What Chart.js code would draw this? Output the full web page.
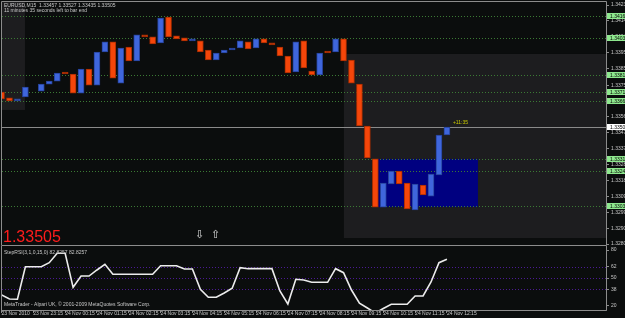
<!DOCTYPE html>
<html>
<head>
<meta charset="utf-8">
<script src="https://cdn.jsdelivr.net/npm/chart.js@4.4.0/dist/chart.umd.min.js"></script>
<style>
  html, body { margin: 0; padding: 0; background: #0b0d0d; }
  #wrap { position: relative; width: 625px; height: 318px; overflow: hidden; background: #0b0d0d; }
  canvas { position: absolute; left: 0; }
  #price { top: 0; }
  #rsi { top: 246px; }
</style>
</head>
<body>
<div id="wrap">
  <canvas id="price" width="625" height="246"></canvas>
  <canvas id="rsi" width="625" height="72"></canvas>
</div>
<script>
// EURUSD M15, bar 0 = 23 Nov 22:15, bar 56 = 24 Nov 12:15 (still forming)
const opens = [
  1.33714, 1.33679, 1.33661, 1.33685, null, 1.33720, 1.33762, 1.33780, 1.33828, 1.33822,
  1.33708, 1.33852, 1.33756, 1.33954, 1.34014, 1.33768, 1.33984, 1.33900, 1.34050, 1.34044,
  1.34008, 1.34163, 1.34050, 1.34038, 1.34020, 1.34020, 1.33966, 1.33906, 1.33948, 1.33966,
  1.33978, 1.34014, 1.33978, 1.34032, 1.34008, 1.33984, 1.33930, 1.33834, 1.34020, 1.33840,
  1.33816, 1.33954, 1.33954, 1.34032, 1.33906, 1.33762, 1.33511, 1.33314, 1.33026, 1.33164,
  1.33242, 1.33170, 1.33009, 1.33158, 1.33092, 1.33218, 1.33457
];
const closes = [
  1.33673, 1.33661, 1.33673, 1.33744, null, 1.33762, 1.33780, 1.33828, 1.33822, 1.33708,
  1.33852, 1.33756, 1.33954, 1.34014, 1.33798, 1.33978, 1.33900, 1.34056, 1.34044, 1.34002,
  1.34157, 1.34044, 1.34032, 1.34020, 1.34032, 1.33954, 1.33906, 1.33948, 1.33966, 1.33978,
  1.34020, 1.33972, 1.34032, 1.34008, 1.33996, 1.33930, 1.33828, 1.34014, 1.33858, 1.33816,
  1.33948, 1.33948, 1.34032, 1.33900, 1.33768, 1.33511, 1.33320, 1.33026, 1.33170, 1.33242,
  1.33164, 1.33015, 1.33164, 1.33098, 1.33224, 1.33457, 1.33505
];
const stepRsi = [
  31.8, 27.5, 27.2, 62.1, 62.1, 62.1, 66.4, 76.5, 76.5, 40.0,
  52.1, 52.1, 58.6, 64.7, 54.0, 54.0, 54.0, 54.0, 54.0, 54.0,
  63.2, 63.2, 63.2, 59.6, 59.6, 37.9, 29.3, 29.3, 33.9, 39.0,
  61.0, 60.0, 60.0, 60.0, 60.0, 36.1, 22.1, 48.6, 47.8, 45.4,
  45.4, 45.4, 60.0, 55.7, 37.1, 22.9, 17.8, 12.5, 17.3, 21.8,
  21.8, 21.8, 30.7, 30.7, 45.7, 66.4, 70.0
];
const timeTicks = [0, 4, 8, 12, 16, 20, 24, 28, 32, 36, 40, 44, 48, 52, 56];
const timeLabels = [
  '23 Nov 2010', '23 Nov 23:15', '24 Nov 00:15', '24 Nov 01:15', '24 Nov 02:15',
  '24 Nov 03:15', '24 Nov 04:15', '24 Nov 05:15', '24 Nov 06:15', '24 Nov 07:15',
  '24 Nov 08:15', '24 Nov 09:15', '24 Nov 10:15', '24 Nov 11:15', '24 Nov 12:15'
];
const priceTicks = [
  1.34235, 1.34140, 1.34045, 1.33950, 1.33855, 1.33755, 1.33660, 1.33565,
  1.33470, 1.33375, 1.33280, 1.33185, 1.33090, 1.32995, 1.32900, 1.32805
];
const levelPrices = [1.34169, 1.34038, 1.33816, 1.33714, 1.33661, 1.33314, 1.33242, 1.33033];
const bidPrice = 1.33505;
const sessionFrom = [-1, 43.05];
const sessionTo = [2.95, 80];
const sessionHigh = [1.34300, 1.33942];
const sessionLow = [1.33607, 1.32841];
const boxFrom = 47.35, boxTo = 59.9, boxHigh = 1.33314, boxLow = 1.33026;
const rsiTicks = [80, 62, 50, 38, 20];
const rsiLevels = [62, 50, 38];

const UP = '#3f66dc', UP_EDGE = '#26429a';
const DOWN = '#f5460a', DOWN_EDGE = '#a52c00';
const TXT = '#c8c8c8';
const FONT = '"Liberation Sans", Arial, sans-serif';
const xMin = 0.06, xMax = 76;

const candles = [];
opens.forEach((o, i) => { if (o !== null) candles.push({ x: i, y: [o, closes[i]] }); });

function isUp(ctx) {
  const d = ctx.raw;
  return d && d.y[1] >= d.y[0];
}

function frame(ctx, a, withTop) {
  ctx.save();
  ctx.strokeStyle = '#8c8c8c';
  ctx.lineWidth = 1;
  ctx.beginPath();
  if (withTop) {
    ctx.moveTo(a.left - 0.5, a.bottom + 0.5);
    ctx.lineTo(a.left - 0.5, a.top - 0.5);
    ctx.lineTo(a.right + 0.5, a.top - 0.5);
    ctx.lineTo(a.right + 0.5, a.bottom + 0.5);
  } else {
    ctx.moveTo(a.left - 0.5, a.top);
    ctx.lineTo(a.left - 0.5, a.bottom + 0.5);
    ctx.lineTo(a.right + 0.5, a.bottom + 0.5);
    ctx.lineTo(a.right + 0.5, a.top);
  }
  ctx.moveTo(a.left - 0.5, a.bottom + 0.5);
  ctx.lineTo(a.right + 0.5, a.bottom + 0.5);
  ctx.stroke();
  ctx.restore();
}

function axisTag(ctx, a, yy, text, fill) {
  ctx.fillStyle = fill;
  ctx.fillRect(a.right + 1, Math.round(yy) - 3, 20, 6);
  ctx.fillStyle = '#000';
  ctx.font = '5px ' + FONT;
  ctx.textBaseline = 'middle';
  ctx.textAlign = 'left';
  ctx.fillText(text, a.right + 4, Math.round(yy) + 0.5);
}

const priceDecor = {
  id: 'priceDecor',
  beforeDatasetsDraw(chart) {
    const { ctx, chartArea: a, scales: { x, y } } = chart;
    ctx.save();
    ctx.beginPath();
    ctx.rect(a.left, a.top, a.right - a.left, a.bottom - a.top);
    ctx.clip();
    // session boxes
    ctx.fillStyle = '#1d1d1f';
    sessionFrom.forEach((f, i) => {
      const x0 = x.getPixelForValue(f), x1 = x.getPixelForValue(sessionTo[i]);
      const y0 = y.getPixelForValue(sessionHigh[i]), y1 = y.getPixelForValue(sessionLow[i]);
      ctx.fillRect(x0, y0, x1 - x0, y1 - y0);
    });
    // range rectangle
    ctx.fillStyle = '#000080';
    const bx0 = x.getPixelForValue(boxFrom), bx1 = x.getPixelForValue(boxTo);
    const by0 = y.getPixelForValue(boxHigh), by1 = y.getPixelForValue(boxLow);
    ctx.fillRect(bx0, by0, bx1 - bx0, by1 - by0);
    // horizontal levels
    ctx.lineWidth = 1;
    ctx.strokeStyle = '#3b7a34';
    ctx.setLineDash([1, 2]);
    levelPrices.forEach(p => {
      const yy = Math.round(y.getPixelForValue(p)) + 0.5;
      ctx.beginPath(); ctx.moveTo(a.left, yy); ctx.lineTo(a.right, yy); ctx.stroke();
    });
    // bid line
    ctx.setLineDash([]);
    ctx.strokeStyle = '#8a8a8a';
    const by = Math.round(y.getPixelForValue(bidPrice)) + 0.5;
    ctx.beginPath(); ctx.moveTo(a.left, by); ctx.lineTo(a.right, by); ctx.stroke();
    ctx.restore();
  },
  afterDraw(chart) {
    const { ctx, chartArea: a, scales: { x, y } } = chart;
    frame(ctx, a, true);
    ctx.save();
    ctx.textAlign = 'left';
    ctx.textBaseline = 'middle';
    ctx.fillStyle = TXT;
    ctx.font = '5px ' + FONT;
    ctx.fillText('EURUSD,M15  1.33457 1.33527 1.33435 1.33505', 4, 5.5);
    ctx.fillText('11 minutes 35 seconds left to bar end', 4, 10.5);
    // time-left label near the last bar
    ctx.fillStyle = '#c8c800';
    ctx.fillText('+11:35', x.getPixelForValue(opens.length - 1) + 6, y.getPixelForValue(bidPrice) - 4);
    // big price
    ctx.textBaseline = 'alphabetic';
    ctx.fillStyle = '#ff1c1c';
    ctx.font = '16px ' + FONT;
    ctx.fillText('1.33505', 3, 242);
    // arrows
    ctx.fillStyle = '#dcdcdc';
    ctx.font = '11px "DejaVu Sans", sans-serif';
    ctx.fillText('\u21E9', 195, 238);
    ctx.fillText('\u21E7', 211, 238);
    // axis tags
    levelPrices.forEach(p => axisTag(ctx, a, y.getPixelForValue(p), p.toFixed(5), '#8ee88e'));
    axisTag(ctx, a, y.getPixelForValue(bidPrice), bidPrice.toFixed(5), '#ffffff');
    ctx.restore();
  }
};

const rsiDecor = {
  id: 'rsiDecor',
  beforeDatasetsDraw(chart) {
    const { ctx, chartArea: a, scales: { y } } = chart;
    ctx.save();
    ctx.lineWidth = 1;
    ctx.strokeStyle = '#4c1a94';
    ctx.setLineDash([1, 2]);
    rsiLevels.forEach(v => {
      const yy = Math.round(y.getPixelForValue(v)) + 0.5;
      ctx.beginPath(); ctx.moveTo(a.left, yy); ctx.lineTo(a.right, yy); ctx.stroke();
    });
    ctx.restore();
  },
  afterDraw(chart) {
    const { ctx, chartArea: a } = chart;
    frame(ctx, a, false);
    ctx.save();
    ctx.fillStyle = TXT;
    ctx.font = '5px ' + FONT;
    ctx.textAlign = 'left';
    ctx.textBaseline = 'middle';
    ctx.fillText('StepRSI(3,1,0,15,0) 82.8257 82.8257', 4, 6.5);
    ctx.fillText('MetaTrader - Alpari UK, \u00A9 2001-2009 MetaQuotes Software Corp.', 4, 58.5);
    ctx.restore();
  }
};

function fixWidth(w) {
  return s => { s.width = w; s.paddingTop = 0; s.paddingBottom = 0; };
}

Chart.defaults.font.family = FONT;
Chart.defaults.animation = false;

new Chart(document.getElementById('price').getContext('2d'), {
  type: 'bar',
  data: {
    datasets: [{
      data: candles,
      barThickness: 6,
      minBarLength: 2,
      borderWidth: 1,
      borderSkipped: false,
      backgroundColor: ctx => isUp(ctx) ? UP : DOWN,
      borderColor: ctx => isUp(ctx) ? UP_EDGE : DOWN_EDGE
    }]
  },
  options: {
    responsive: false,
    layout: { padding: { left: 2, top: 2, right: 0, bottom: 1 } },
    plugins: { legend: { display: false }, tooltip: { enabled: false } },
    scales: {
      x: { type: 'linear', min: xMin, max: xMax, offset: false, grid: { offset: false }, display: false },
      y: {
        type: 'linear',
        position: 'right',
        min: 1.327991,
        max: 1.342530,
        afterBuildTicks: s => { s.ticks = priceTicks.map(v => ({ value: v })); },
        afterFit: fixWidth(19),
        grid: { drawOnChartArea: false, drawTicks: true, tickLength: 3, tickColor: '#8c8c8c' },
        border: { display: false },
        ticks: {
          autoSkip: false,
          padding: 2,
          color: TXT,
          font: { size: 5 },
          callback: v => v.toFixed(5)
        }
      }
    }
  },
  plugins: [priceDecor]
});

new Chart(document.getElementById('rsi').getContext('2d'), {
  type: 'line',
  data: {
    datasets: [{
      data: stepRsi.map((v, i) => ({ x: i, y: v })),
      borderColor: '#ececec',
      borderWidth: 1.6,
      pointRadius: 0,
      tension: 0,
      clip: 0
    }]
  },
  options: {
    responsive: false,
    layout: { padding: { left: 2, top: 0, right: 0, bottom: 0 } },
    plugins: { legend: { display: false }, tooltip: { enabled: false } },
    scales: {
      x: {
        type: 'linear',
        min: xMin,
        max: xMax,
        afterBuildTicks: s => { s.ticks = timeTicks.map(v => ({ value: v })); },
        afterFit: s => { s.height = 8; s.paddingLeft = 0; s.paddingRight = 0; },
        grid: { drawOnChartArea: false, drawTicks: true, tickLength: 3, tickColor: '#8c8c8c' },
        border: { display: false },
        ticks: {
          autoSkip: false,
          maxRotation: 0,
          align: 'start',
          padding: -2,
          color: TXT,
          font: { size: 5 },
          callback: v => timeLabels[timeTicks.indexOf(v)] || ''
        }
      },
      y: {
        type: 'linear',
        position: 'right',
        min: 15.7,
        max: 84.3,
        afterBuildTicks: s => { s.ticks = rsiTicks.map(v => ({ value: v })); },
        afterFit: fixWidth(19),
        grid: { drawOnChartArea: false, drawTicks: true, tickLength: 3, tickColor: '#8c8c8c' },
        border: { display: false },
        ticks: { autoSkip: false, padding: 2, color: TXT, font: { size: 5 } }
      }
    }
  },
  plugins: [rsiDecor]
});
</script>
</body>
</html>
